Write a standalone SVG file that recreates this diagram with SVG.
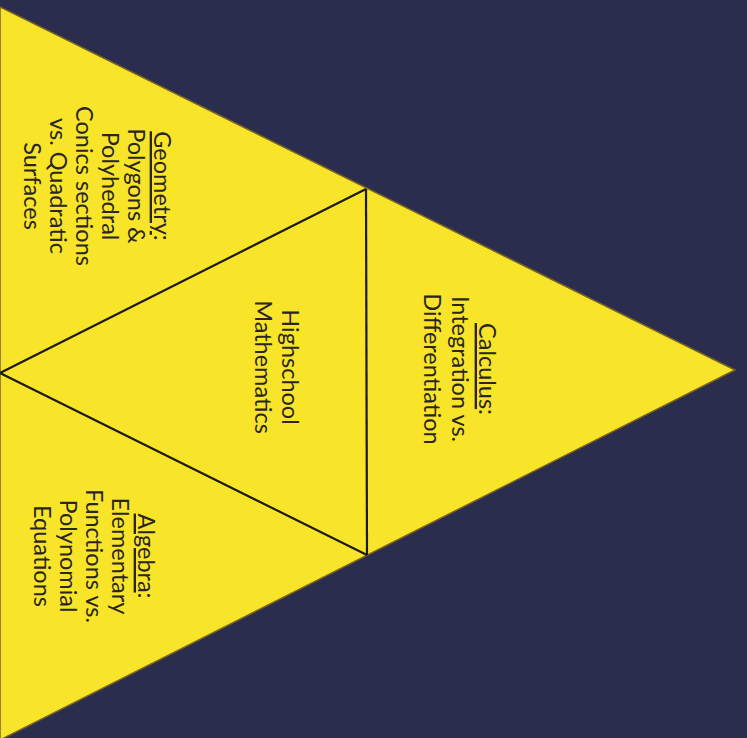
<svg xmlns="http://www.w3.org/2000/svg" width="747" height="738" viewBox="0 0 747 738">
<style>
.t{font-family:Lato,"Liberation Sans",sans-serif;font-size:23.5px;fill:#2a2520;text-anchor:middle}
.u{text-decoration:underline}
.ln{stroke:#1c1a16;stroke-width:2.2;fill:none}
</style>
<rect width="747" height="738" fill="#2b2d4e"/>
<g id="outer">
<polygon points="0,7 735,370 0,740" fill="#f8e52a" stroke="#7a6420" stroke-width="1.5"/>
</g>
<g id="connectors">
<line class="ln" x1="366" y1="189" x2="367" y2="555"/>
<line class="ln" x1="366" y1="189" x2="0" y2="373"/>
<line class="ln" x1="0" y1="373" x2="367" y2="555"/>
</g>
<g id="calculus" transform="translate(479,369) rotate(90)">
<text class="t" y="0"><tspan class="u">Calculus</tspan>:</text>
<text class="t" y="27">Integration vs.</text>
<text class="t" y="55">Differentiation</text>
</g>
<g id="geometry" transform="translate(154,186) rotate(90)">
<text class="t" y="0"><tspan class="u">Geometry</tspan>:</text>
<text class="t" y="26">Polygons &amp;</text>
<text class="t" y="52">Polyhedral</text>
<text class="t" y="78">Conics sections</text>
<text class="t" y="104">vs. Quadratic</text>
<text class="t" y="130">Surfaces</text>
</g>
<g id="highschool" transform="translate(282,367) rotate(90)">
<text class="t" y="0">Highschool</text>
<text class="t" y="27">Mathematics</text>
</g>
<g id="algebra" transform="translate(138,556) rotate(90)">
<text class="t" y="0"><tspan class="u">Algebra</tspan>:</text>
<text class="t" y="26">Elementary</text>
<text class="t" y="52">Functions vs.</text>
<text class="t" y="78">Polynomial</text>
<text class="t" y="104">Equations</text>
</g>
</svg>
